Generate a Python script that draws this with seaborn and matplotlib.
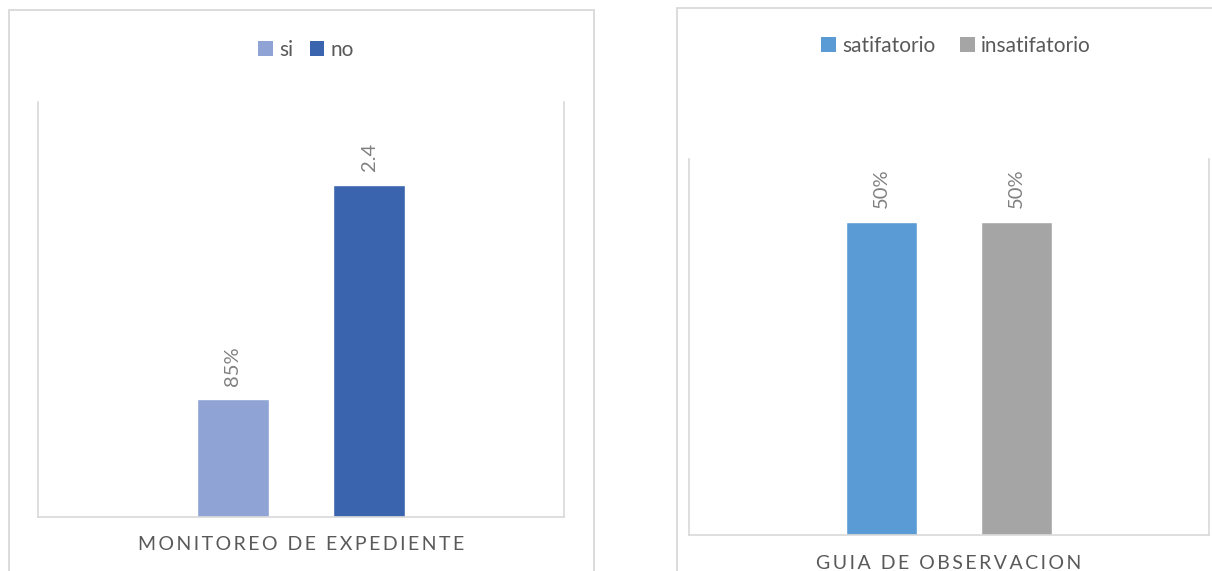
import matplotlib
matplotlib.use("Agg")
import matplotlib.pyplot as plt
import seaborn as sns
import pandas as pd
from matplotlib.patches import Rectangle, Patch

# Left chart: monitoreo de expediente
left_series = ["si", "no"]
left_values = [0.85, 2.4]
left_labels = ["85%", "2.4"]
left_colors = ["#8FA3D4", "#3A64AD"]
left_title = "MONITOREO DE EXPEDIENTE"

# Right chart: guia de observacion
right_series = ["satifatorio", "insatifatorio"]
right_values = [0.5, 0.5]
right_labels = ["50%", "50%"]
right_colors = ["#5B9BD5", "#A5A5A5"]
right_title = "GUIA DE OBSERVACION"

sns.set_theme(style="white")
plt.rcParams["font.family"] = ["Lato", "DejaVu Sans"]

W, H = 1212, 571
fig = plt.figure(figsize=(W / 100, H / 100), dpi=100)
fig.patch.set_facecolor("white")

GRID = "#D9D9D9"
TXT = "#595959"
LBL = "#808080"


def px_axes(x0, y0, x1, y1):
    return fig.add_axes([x0 / W, 1 - y1 / H, (x1 - x0) / W, (y1 - y0) / H])


def spaced(s):
    return "\u2009".join(" " if c == " " else c for c in s)


def panel(x0, y0, x1):
    fig.add_artist(Rectangle((x0 / W, -0.05), (x1 - x0) / W, 1.05 - y0 / H,
                             transform=fig.transFigure, fill=False,
                             ec=GRID, lw=1.3))


def draw(ax, series, values, labels, colors, ymax, title, title_y,
         legend_xy, colspace):
    df = pd.DataFrame({"serie": series, "valor": values})
    sns.barplot(data=df, x="serie", y="valor", hue="serie", order=series,
                hue_order=series, palette=colors, width=0.53, saturation=1,
                legend=False, ax=ax)
    ax.set_ylim(0, ymax)
    ax.set_xlim(0.5 - 1.93, 0.5 + 1.93)
    ax.set_yticks([])
    ax.set_xticks([])
    ax.set_ylabel("")
    for side in ["left", "right", "bottom"]:
        ax.spines[side].set_visible(True)
        ax.spines[side].set_color(GRID)
        ax.spines[side].set_linewidth(1.2)
    ax.spines["top"].set_visible(False)
    for cont, lab in zip(ax.containers, labels):
        ax.bar_label(cont, labels=[lab], rotation=90, padding=10,
                     color=LBL, fontsize=14.5)
    ax.set_xlabel(spaced(title), fontsize=14, color=TXT)
    ax.xaxis.set_label_coords(0.5, title_y)
    ax.xaxis.label.set_va("center")
    handles = [Patch(facecolor=c, edgecolor="none", label=s)
               for s, c in zip(series, colors)]
    ax.legend(handles=handles, loc="center", ncol=2, frameon=False,
              bbox_to_anchor=(legend_xy[0] / W, 1 - legend_xy[1] / H),
              bbox_transform=fig.transFigure, fontsize=15,
              labelcolor=TXT, handlelength=0.7, handleheight=0.7,
              handletextpad=0.3, columnspacing=colspace, borderaxespad=0)


panel(9, 10, 594)
panel(677, 8, 1240)

ax1 = px_axes(38, 102, 564, 517)
draw(ax1, left_series, left_values, left_labels, left_colors, 3.0,
     left_title, -(545 - 517) / (517 - 102), (306, 50), 0.8)

ax2 = px_axes(689, 159, 1209, 535)
draw(ax2, right_series, right_values, right_labels, right_colors, 0.6,
     right_title, -(563.5 - 535) / (535 - 159), (956, 46), 1.2)

fig.savefig("out.png", dpi=100, facecolor="white")
